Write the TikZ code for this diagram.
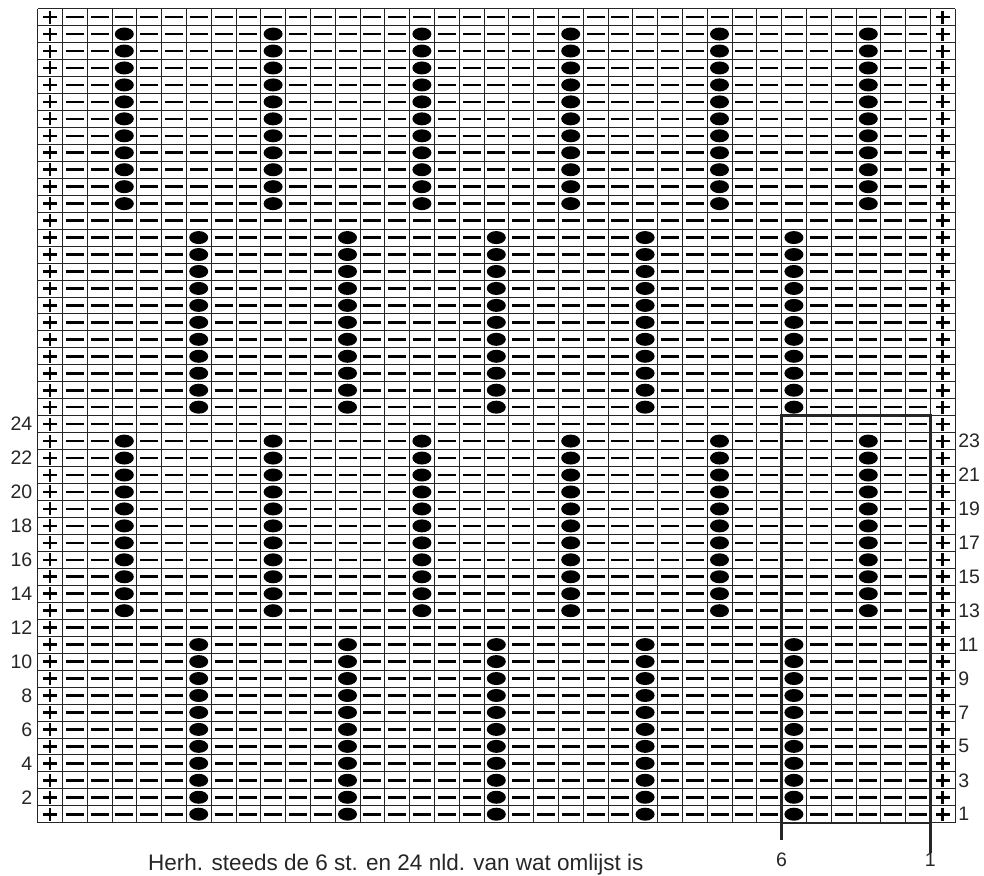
\documentclass[tikz,border=0pt]{standalone}
\usepackage{fontspec}
\setmainfont{Liberation Sans}
\usetikzlibrary{positioning}
\tikzset{
  cellline/.style={line width=0.8pt,black!85},
  purl/.style={line width=2.6pt},
  knitplus/.style={line width=2.6pt},
  bobble/.style={fill=black},
  rowno/.style={font=\fontsize{19.5}{19.5}\selectfont,text=black!85,inner sep=0pt},
  repbox/.style={line width=2.4pt,black!85},
  replead/.style={line width=2.6pt,black!85},
}

\begin{document}
\begin{tikzpicture}[x=1pt,y=1pt]
  \useasboundingbox (0,0) rectangle (984,875);
  \begin{scope}[shift={(37.5,52.3)},x=24.8pt,y=16.96pt]
    % raster
    \foreach \i in {0,...,37} \draw[cellline] (\i,0) -- (\i,48);
    \foreach \j in {0,...,48} \draw[cellline] (0,\j) -- (37,\j);
    % steken
    \foreach \j in {0,...,47}{
      \pgfmathtruncatemacro{\rowpos}{mod(\j,24)}
      \foreach \i in {0,36}
        \draw[knitplus] (\i+0.5,\j+0.5) ++(-7pt,0) -- ++(14pt,0)
                        (\i+0.5,\j+0.5) ++(0,-6.5pt) -- ++(0,13pt);
      \foreach \i in {1,...,35}{
        \pgfmathtruncatemacro{\colpos}{mod(\i,6)}
        \pgfmathtruncatemacro{\isbob}{and(\rowpos<11,\colpos==0)+and(\rowpos>11,and(\rowpos<23,\colpos==3))}
        \ifnum\isbob=1
          \fill[bobble] (\i+0.5,\j+0.5) ellipse [x radius=9.5pt,y radius=6.5pt];
        \else
          \draw[purl] (\i+0.5,\j+0.5) ++(-9pt,0) -- ++(18pt,0);
        \fi
      }
    }
    % naldnummers
    \foreach \k in {2,4,...,24}
      \node[rowno,anchor=east] (left\k) at ([xshift=-5pt]0,\k-0.5) {\k};
    \foreach \k in {1,3,...,23}
      \node[rowno,anchor=west] (right\k) at ([xshift=3pt]37,\k-0.5) {\k};
    % herhaling
    \coordinate (boxsw) at (30,0);
    \coordinate (boxse) at (36,0);
    \draw[repbox] (boxsw) rectangle (36,24);
    \node[rowno,below=30pt of boxsw] (st6) {6};
    \node[rowno,below=30pt of boxse] (st1) {1};
    \draw[replead] (boxsw) -- ([yshift=13pt]st6.north);
    \draw[replead] (boxse) -- (st1.north);
  \end{scope}
  \node[anchor=base west,font=\fontsize{22.5}{22.5}\selectfont,text=black!85,inner sep=0pt]
    (caption) at (148,5) {Herh. steeds de 6 st. en 24 nld. van wat omlijst is};
\end{tikzpicture}
\end{document}
